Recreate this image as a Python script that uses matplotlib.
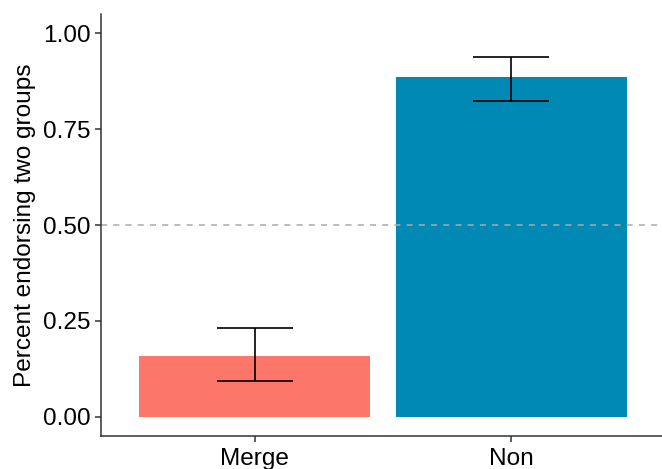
import matplotlib.pyplot as plt
import numpy as np

plt.rcParams['font.family'] = ['Liberation Sans', 'DejaVu Sans']

groups = ['Merge', 'Non']
means = [0.159, 0.887]
lower = [0.094, 0.824]
upper = [0.231, 0.938]
colors = ['#FC766A', '#0089B4']

x = np.arange(1, len(groups) + 1)
err = [np.array(means) - np.array(lower), np.array(upper) - np.array(means)]

fig = plt.figure(figsize=(6.62, 4.69), dpi=100)
ax = fig.add_axes([0.1526, 0.0704, 0.852, 0.8996])

ax.bar(x, means, width=0.9, color=colors, zorder=1)
ax.axhline(0.5, color='#AAAAAA', linestyle=(0, (4, 4)), linewidth=1.1, zorder=2)
ax.errorbar(x, means, yerr=err, fmt='none', ecolor='black', elinewidth=1.2,
            capsize=27.4, capthick=1.2, zorder=3)

ax.set_xlim(0.4, 2.6)
ax.set_ylim(-0.05, 1.05)
ax.set_xticks(x)
ax.set_xticklabels(groups)
ax.set_yticks([0, 0.25, 0.5, 0.75, 1.0])
ax.set_yticklabels(['0.00', '0.25', '0.50', '0.75', '1.00'])
ax.tick_params(axis='both', labelsize=17.6, colors='#333333', length=4.5, width=1.1,
               labelcolor='black', pad=3)
ax.tick_params(axis='x', pad=4)
ax.set_ylabel('Percent endorsing two groups', fontsize=17.6, labelpad=5)

for side in ['top', 'right']:
    ax.spines[side].set_visible(False)
for side in ['left', 'bottom']:
    ax.spines[side].set_color('#333333')
    ax.spines[side].set_linewidth(1.1)

fig.savefig('out.png', dpi=100)
